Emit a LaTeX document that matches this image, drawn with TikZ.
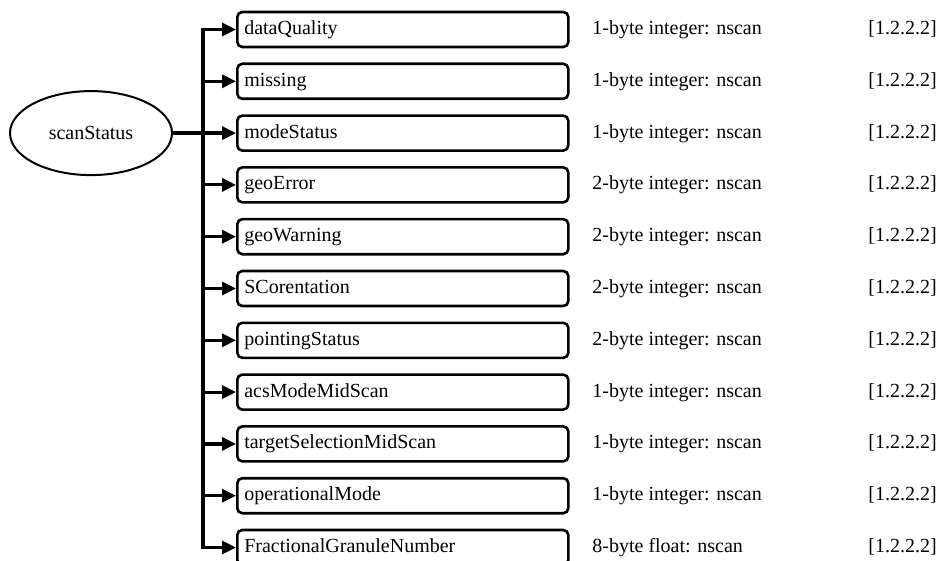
\documentclass[tikz,border=0pt]{standalone}
\usepackage{fontspec}
\setmainfont{Liberation Serif}
\usetikzlibrary{arrows.meta,shapes.geometric}

\begin{document}
\begin{tikzpicture}[x=0.5pt,y=-0.5pt,
  field/.style={draw,line width=1.3pt,rounded corners=2.5pt,anchor=west,
    text width=158.5pt,inner xsep=3.5pt,minimum height=17.5pt,align=left,
    text height=7pt,text depth=2pt},
  conn/.style={line width=1.6pt},
  tip/.style={-{Triangle[length=7pt,width=6.5pt]}},
  info/.style={anchor=west,inner sep=0pt,text height=7pt,text depth=2pt}]
  \useasboundingbox (0,0) rectangle (941,561);
  \clip (0,0) rectangle (941,561);

  \node[draw,ellipse,line width=1pt,minimum width=81pt,minimum height=42pt,inner sep=0pt]
    (status) at (91,133.1) {scanStatus};

  \foreach \name/\kind [count=\i] in {dataQuality/1-byte integer,missing/1-byte integer,
      modeStatus/1-byte integer,geoError/2-byte integer,geoWarning/2-byte integer,
      SCorentation/2-byte integer,pointingStatus/2-byte integer,
      acsModeMidScan/1-byte integer,targetSelectionMidScan/1-byte integer,
      operationalMode/1-byte integer,FractionalGranuleNumber/8-byte float} {
    \pgfmathsetmacro{\rowy}{29.5+51.8*(\i-1)}
    \coordinate (b\i) at (203,\rowy);
    \node[field] (f\i) at (236,\rowy) {\name};
    \node[info] (t\i) at (592,\rowy) {\kind: nscan};
    \node[info] (r\i) at (868,\rowy) {[1.2.2.2]};
    \draw[conn,tip] (b\i) -- (f\i.west);
  }

  % bus
  \draw[conn,line cap=rect] (b1) -- (b11);
  \draw[conn] (status.east) -- (b3);
\end{tikzpicture}
\end{document}
